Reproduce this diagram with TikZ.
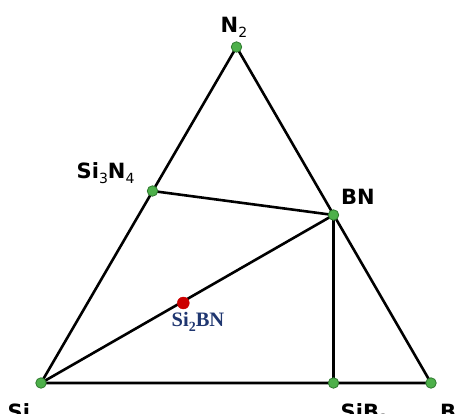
\documentclass[tikz,border=0pt]{standalone}
\usepackage{fontspec}
\setmainfont{DejaVu Sans}
\newfontfamily\serifbf{Liberation Serif}
\definecolor{dotgreen}{HTML}{4DB04A}
\definecolor{dotedge}{HTML}{2F7A2F}
\definecolor{dotred}{HTML}{CC0000}
\definecolor{navy}{HTML}{1F3670}
\newcommand{\mysub}[1]{\raisebox{-0.28em}{\fontsize{14}{14}\selectfont\mdseries #1}}
\newcommand{\mysubs}[1]{\raisebox{-0.25em}{\fontsize{14}{14}\selectfont #1}}
\tikzset{
  pt/.style={circle,fill=dotgreen,draw=dotedge,line width=0.8pt,inner sep=0pt,minimum size=10.5pt},
  redpt/.style={circle,fill=dotred,draw=dotred,inner sep=0pt,minimum size=12pt},
  lbl/.style={inner sep=0pt,anchor=base west,font=\fontsize{21}{21}\selectfont\bfseries},
  edge/.style={line width=2.6pt,black,line cap=round}
}
\begin{document}
\begin{tikzpicture}[x=1pt,y=-1pt]
\useasboundingbox (0,0) rectangle (455,413);
\clip (0,0) rectangle (455,413);
\coordinate (n2) at (236.5,47);
\coordinate (si3n4) at (152.5,191);
\coordinate (bn) at (333.5,215);
\coordinate (si) at (41,383);
\coordinate (sib3) at (333.5,383);
\coordinate (b) at (431,383);
\coordinate (si2bn) at (183.3,303);
\draw[edge] (si) -- (n2) -- (b) -- cycle;
\draw[edge] (si3n4) -- (bn);
\draw[edge] (si) -- (bn);
\draw[edge] (bn) -- (sib3);
\node[pt] (dn2) at (n2) {};
\node[pt] (dsi3n4) at (si3n4) {};
\node[pt] (dbn) at (bn) {};
\node[pt] (dsi) at (si) {};
\node[pt] (dsib3) at (sib3) {};
\node[pt] (db) at (b) {};
\node[redpt] (dsi2bn) at (si2bn) {};
\node[lbl] (ln2) at (220.5,32) {N\mysub{2}};
\node[lbl] (lsi3n4) at (76.5,178) {Si\mysub{3}N\mysub{4}};
\node[lbl] (lbn) at (341,204) {BN};
\node[lbl] (lsi) at (7.5,419) {Si};
\node[lbl] (lsib3) at (340.5,419) {SiB\mysub{3}};
\node[lbl] (lb) at (440,419) {B};
\node[inner sep=0pt,anchor=base west,text=navy,font=\serifbf\fontsize{20.5}{20.5}\selectfont\bfseries] (lsi2bn) at (171.5,326.7) {Si\mysubs{2}BN};
\end{tikzpicture}
\end{document}
